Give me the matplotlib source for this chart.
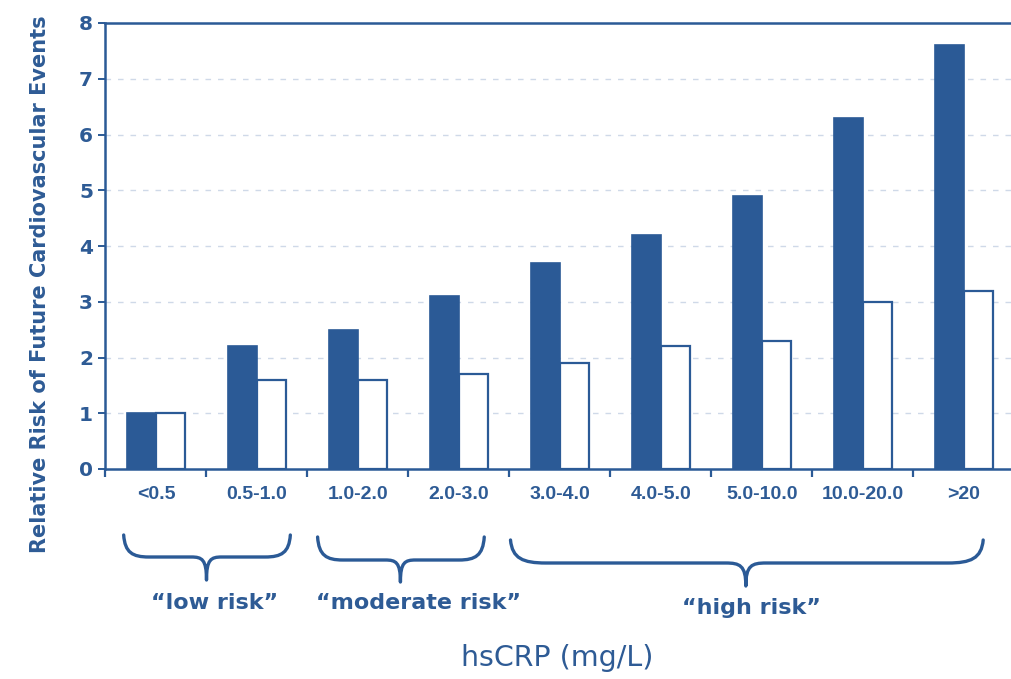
import matplotlib
matplotlib.use("Agg")
import matplotlib.pyplot as plt
from matplotlib.path import Path
from matplotlib.patches import PathPatch
from matplotlib.transforms import blended_transform_factory
import numpy as np

# ---- data ----
categories = ["<0.5", "0.5-1.0", "1.0-2.0", "2.0-3.0", "3.0-4.0",
              "4.0-5.0", "5.0-10.0", "10.0-20.0", ">20"]
dark_values = [1.0, 2.2, 2.5, 3.1, 3.7, 4.2, 4.9, 6.3, 7.6]
white_values = [1.0, 1.6, 1.6, 1.7, 1.9, 2.2, 2.3, 3.0, 3.2]
y_ticks = [0, 1, 2, 3, 4, 5, 6, 7, 8]
risk_groups = ["\u201clow risk\u201d", "\u201cmoderate risk\u201d", "\u201chigh risk\u201d"]
ylabel = "Relative Risk of Future Cardiovascular Events"
xlabel = "hsCRP (mg/L)"

BLUE = "#2b5a96"
TEXT = "#2e5b95"
GRID = "#cfd9e8"

W, H = 1012, 679
fig = plt.figure(figsize=(W / 100, H / 100), dpi=100)
fig.patch.set_facecolor("white")

left_px, right_px = 105.5, 105.5 + 9 * 101
top_px, bot_px = 23, 469
ax = fig.add_axes([left_px / W, 1 - bot_px / H, (right_px - left_px) / W, (bot_px - top_px) / H])

x = np.arange(len(categories))
bw = 0.29
ax.bar(x - bw / 2, dark_values, width=bw, color=BLUE, edgecolor=BLUE, linewidth=1.2, zorder=3)
ax.bar(x + bw / 2, white_values, width=bw, color="white", edgecolor=BLUE, linewidth=1.6, zorder=3)

ax.set_xlim(-0.5, len(categories) - 0.5)
ax.set_ylim(0, 8)
ax.set_yticks(y_ticks)
ax.set_yticklabels([str(t) for t in y_ticks], fontsize=14.5, fontweight="bold",
                   color=TEXT, family="DejaVu Sans")

# x tick marks at group boundaries, labels at group centers
ax.set_xticks(np.arange(-0.5, len(categories) - 0.5, 1.0))
ax.set_xticklabels([])
ax.set_xticks(x, minor=True)
ax.set_xticklabels(categories, minor=True, fontsize=14, fontweight="bold",
                   color=TEXT, family="Liberation Sans")
ax.tick_params(axis="x", which="major", direction="out", length=6, width=1.6, color=BLUE)
ax.tick_params(axis="x", which="minor", length=0, pad=12)
ax.tick_params(axis="y", direction="out", length=5, width=1.4, color=BLUE, pad=4)

for side in ["left", "top", "bottom"]:
    ax.spines[side].set_color(BLUE)
    ax.spines[side].set_linewidth(1.8)
ax.spines["right"].set_visible(False)

ax.set_axisbelow(True)
ax.yaxis.grid(True, color=GRID, linestyle=(0, (4, 5)), linewidth=1.0, zorder=0)
for gl in ax.yaxis.get_gridlines()[:1] + ax.yaxis.get_gridlines()[-1:]:
    gl.set_visible(False)

# y label
fig.text(40 / W, 1 - 284 / H, ylabel, rotation=90, ha="center", va="center",
         fontsize=15, fontweight="bold", color=TEXT, family="DejaVu Sans")

# braces (x in data units, y in figure pixels)
trans = blended_transform_factory(ax.transData, fig.transFigure)


def fy(py):
    return 1 - py / H


def brace(x0, x1, xc, ytop, ymid, ytip, r=0.25, t=0.15):
    yt, ym, yp = fy(ytop), fy(ymid), fy(ytip)
    dy = (ym - yp) * 0.1
    verts = [
        (x0, yt), (x0 + r * 0.05, ym + (yt - ym) * 0.2), (x0 + r * 0.35, ym), (x0 + r, ym),
        (xc - t, ym),
        (xc - t * 0.3, ym), (xc, ym - dy), (xc, yp),
        (xc, ym - dy), (xc + t * 0.3, ym), (xc + t, ym),
        (x1 - r, ym),
        (x1 - r * 0.35, ym), (x1 - r * 0.05, ym + (yt - ym) * 0.2), (x1, yt),
    ]
    codes = [Path.MOVETO, Path.CURVE4, Path.CURVE4, Path.CURVE4,
             Path.LINETO,
             Path.CURVE4, Path.CURVE4, Path.CURVE4,
             Path.CURVE4, Path.CURVE4, Path.CURVE4,
             Path.LINETO,
             Path.CURVE4, Path.CURVE4, Path.CURVE4]
    p = PathPatch(Path(verts, codes), transform=trans, fill=False, edgecolor=BLUE,
                  linewidth=2.4, capstyle="round", joinstyle="round", clip_on=False)
    fig.add_artist(p)


brace(-0.32, 1.33, 0.50, 535, 557, 580)
brace(1.60, 3.25, 2.42, 537, 560, 582)
brace(3.51, 8.19, 5.84, 540, 563, 586, r=0.35, t=0.2)

label_pos = [(0.58, 603), (2.6, 603), (5.90, 608)]
for lbl, (lx, ly) in zip(risk_groups, label_pos):
    fig.text(lx, fy(ly), lbl, transform=trans, ha="center", va="center",
             fontsize=16, fontweight="bold", color=TEXT, family="DejaVu Sans")

fig.text(557 / W, fy(658), xlabel, ha="center", va="center", fontsize=20.5,
         color=TEXT, family="DejaVu Sans")

fig.savefig("out.png", dpi=100, facecolor="white")
